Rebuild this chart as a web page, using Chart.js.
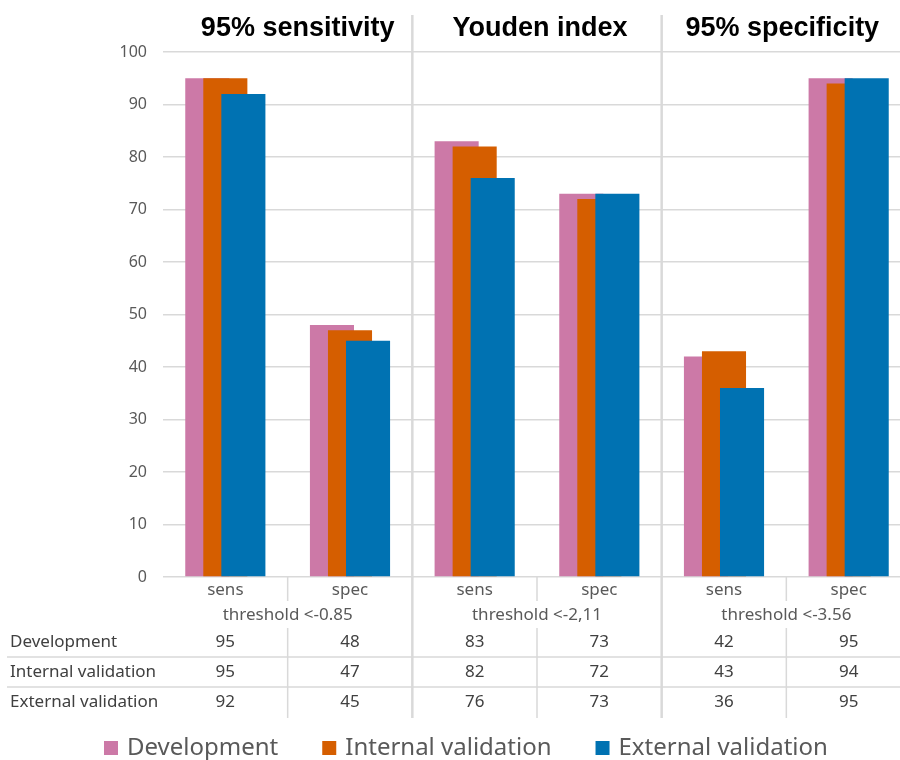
<!DOCTYPE html>
<html>
<head>
<meta charset="utf-8">
<script src="https://cdn.jsdelivr.net/npm/chart.js@4.4.1/dist/chart.umd.min.js"></script>
<style>
  html, body { margin: 0; padding: 0; background: #fff; overflow: hidden; }
  #wrap { width: 900px; height: 760px; overflow: hidden; }
</style>
</head>
<body>
<div id="wrap"><canvas id="grafik" width="912" height="760"></canvas></div>
<script>
const label = ['sens', 'spec', 'sens', 'spec', 'sens', 'spec'];
const groupTitles = ['95% sensitivity', 'Youden index', '95% specificity'];
const thresholds = ['threshold <-0.85', 'threshold <-2,11', 'threshold <-3.56'];
const seriesNames = ['Development', 'Internal validation', 'External validation'];
const development = [95, 48, 83, 73, 42, 95];
const internalValidation = [95, 47, 82, 72, 43, 94];
const externalValidation = [92, 45, 76, 73, 36, 95];
const colors = ['#CC79A7', '#D55E00', '#0072B2'];

const font = '"Noto Sans", sans-serif';
const gridColor = '#d9d9d9';
const textColor = '#595959';

// draw datasets in index order so the last series sits on top
const drawOrder = {
    id: 'drawOrder',
    beforeDatasetDraw() {
        return false;
    },
    afterDatasetsDraw(chart) {
        for (let i = 0; i < chart.data.datasets.length; i++) {
            chart.getDatasetMeta(i).controller.draw();
        }
    }
};

// titles, data table under the axis, separators and legend
const tableAndLegend = {
    id: 'tableAndLegend',
    afterDraw(chart) {
        const ctx = chart.ctx;
        const x = chart.scales.x;
        const area = chart.chartArea;
        const step = x.getPixelForValue(1) - x.getPixelForValue(0);
        const rowsY = [642, 672, 702];
        const data = chart.data.datasets.map(d => d.data);
        ctx.save();

        // group separators
        ctx.strokeStyle = gridColor;
        ctx.lineWidth = 2.5;
        for (let g = 1; g < 3; g++) {
            const px = x.getPixelForValue(g * 2) - step / 2;
            ctx.beginPath();
            ctx.moveTo(px, 15);
            ctx.lineTo(px, 718);
            ctx.stroke();
        }
        // lines between sens / spec
        ctx.lineWidth = 1.5;
        for (let g = 0; g < 3; g++) {
            const px = x.getPixelForValue(g * 2) + step / 2;
            ctx.beginPath();
            ctx.moveTo(px, area.bottom);
            ctx.lineTo(px, 601);
            ctx.moveTo(px, 628);
            ctx.lineTo(px, 718);
            ctx.stroke();
        }
        // row lines
        [657, 687].forEach(y => {
            ctx.beginPath();
            ctx.moveTo(7, y);
            ctx.lineTo(chart.width, y);
            ctx.stroke();
        });

        ctx.textBaseline = 'middle';
        ctx.textAlign = 'center';

        // group titles
        ctx.fillStyle = '#000';
        ctx.font = 'bold 27px "Liberation Sans", Arial, sans-serif';
        groupTitles.forEach((t, g) => {
            const cx = (x.getPixelForValue(g * 2) + x.getPixelForValue(g * 2 + 1)) / 2;
            ctx.fillText(t, cx + [10, 3, -4][g], 29);
        });

        // category labels and thresholds
        ctx.fillStyle = textColor;
        ctx.font = '17px ' + font;
        label.forEach((l, i) => {
            ctx.fillText(l, x.getPixelForValue(i), 590);
        });
        thresholds.forEach((t, g) => {
            const cx = (x.getPixelForValue(g * 2) + x.getPixelForValue(g * 2 + 1)) / 2;
            ctx.fillText(t, cx, 615);
        });

        // table values
        ctx.fillStyle = '#404040';
        data.forEach((row, r) => {
            row.forEach((v, i) => {
                ctx.fillText(String(v), x.getPixelForValue(i), rowsY[r]);
            });
        });
        ctx.textAlign = 'left';
        seriesNames.forEach((n, r) => {
            ctx.fillText(n, 10, rowsY[r]);
        });

        // legend
        ctx.font = '24px ' + font;
        let lx = 104;
        seriesNames.forEach((n, i) => {
            ctx.fillStyle = colors[i];
            ctx.fillRect(lx, 741, 14, 14);
            ctx.fillStyle = textColor;
            ctx.fillText(n, lx + 23, 748);
            lx += 23 + ctx.measureText(n).width + 44;
        });
        ctx.restore();
    }
};

const config = {
    type: 'bar',
    data: {
        labels: label,
        datasets: [
            { label: seriesNames[0], data: development, backgroundColor: colors[0] },
            { label: seriesNames[1], data: internalValidation, backgroundColor: colors[1] },
            { label: seriesNames[2], data: externalValidation, backgroundColor: colors[2] }
        ]
    },
    options: {
        responsive: false,
        animation: false,
        devicePixelRatio: 1,
        categoryPercentage: 0.434,
        barPercentage: 2.444,
        layout: {
            padding: { left: 0, right: 1, top: 52, bottom: 183 }
        },
        scales: {
            x: { display: false },
            y: {
                min: 0,
                max: 100,
                afterFit(scale) { scale.width = 163; },
                border: { display: false },
                grid: { color: gridColor, lineWidth: 1.5, drawTicks: false },
                ticks: {
                    stepSize: 10,
                    padding: 16,
                    color: textColor,
                    font: { family: font, size: 16 }
                }
            }
        },
        plugins: {
            legend: { display: false },
            tooltip: { enabled: false }
        }
    },
    plugins: [drawOrder, tableAndLegend]
};

const myChart = new Chart(document.getElementById('grafik'), config);
</script>
</body>
</html>
